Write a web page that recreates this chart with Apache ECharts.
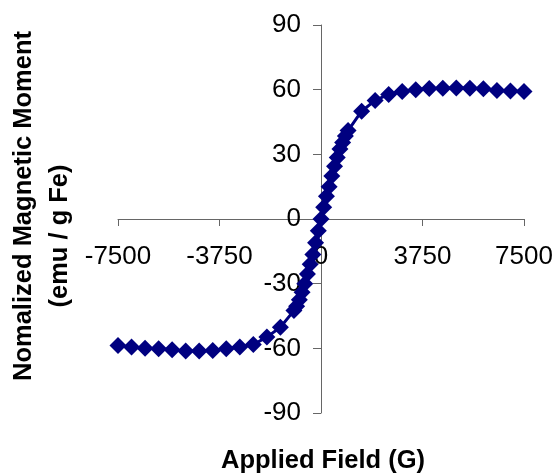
<!DOCTYPE html>
<html>
<head>
<meta charset="utf-8">
<script src="https://cdn.jsdelivr.net/npm/echarts@6/dist/echarts.min.js"></script>
<style>html,body{margin:0;padding:0;background:#fff}#c{width:556px;height:474px}</style>
</head>
<body>
<div id="c"></div>
<script>
var fieldG = [-7500,-7000,-6500,-6000,-5500,-5000,-4500,-4000,-3500,-3000,-2500,-2000,-1500,
  -1000,-900,-800,-700,-600,-500,-400,-300,-200,-100,0,100,200,300,400,500,600,700,800,900,1000,
  1500,2000,2500,3000,3500,4000,4500,5000,5500,6000,6500,7000,7500];
var moment = [-58.7,-59.4,-60.0,-60.2,-60.6,-61.2,-61.2,-61.0,-60.2,-59.4,-58.2,-54.8,-50.2,
  -42.5,-40.5,-37.5,-34,-30,-25.5,-21,-16.5,-11,-5.5,0,5.5,10.5,15,20,24.5,28.5,32.5,35.5,38.5,41,
  50,55,57.8,59.1,60,60.5,60.6,60.8,60.6,60.4,59.6,59.4,59.1];
var xTicks = [-7500,-3750,0,3750,7500];
var yTicks = [-90,-60,-30,0,30,60,90];
var xTitle = 'Applied Field (G)';
var yTitle1 = 'Nomalized Magnetic Moment';
var yTitle2 = '(emu / g Fe)';

var W = 556, H = 474;
var G = {left:118,right:32,top:25,bottom:61};
var xMin = xTicks[0], xMax = xTicks[xTicks.length-1];
var yMin = yTicks[0], yMax = yTicks[yTicks.length-1];
var plotW = W - G.left - G.right, plotH = H - G.top - G.bottom;
// shift axes inward so they cross at zero (labels follow)
var xOff = -plotH * (0 - yMin) / (yMax - yMin);
var yOff = -plotW * (0 - xMin) / (xMax - xMin);

var font = '"Liberation Sans", Arial, sans-serif';
var chart = echarts.init(document.getElementById('c'), null, {renderer:'canvas'});
var pts = fieldG.map(function(x,i){return [x, moment[i]];});
chart.setOption({
  animation:false,
  grid:{left:G.left,right:G.right,top:G.top,bottom:G.bottom,containLabel:false},
  xAxis:{type:'value',min:xMin,max:xMax,interval:3750,position:'bottom',offset:xOff,
    axisLine:{onZero:false,lineStyle:{color:'#666',width:1}},
    axisTick:{show:true,length:7,lineStyle:{color:'#666'}},
    splitLine:{show:false},
    axisLabel:{margin:25,color:'#000',fontSize:26,fontFamily:font,formatter:function(v){return String(v);}}},
  yAxis:{type:'value',min:yMin,max:yMax,interval:30,position:'left',offset:yOff,
    axisLine:{show:true,onZero:false,lineStyle:{color:'#666',width:1}},
    axisTick:{show:true,length:8,lineStyle:{color:'#666'}},
    splitLine:{show:false},
    axisLabel:{margin:20,color:'#000',fontSize:26,fontFamily:font,formatter:function(v){return String(v);}}},
  graphic:[
    {type:'text',x:323,y:461,style:{text:xTitle,font:'bold 25.5px '+font,fill:'#000',align:'center',verticalAlign:'middle'}},
    {type:'text',x:24,y:206,rotation:Math.PI/2,style:{text:yTitle1,font:'bold 25.5px '+font,fill:'#000',align:'center',verticalAlign:'middle'}},
    {type:'text',x:60,y:236,rotation:Math.PI/2,style:{text:yTitle2,font:'bold 25.5px '+font,fill:'#000',align:'center',verticalAlign:'middle'}}
  ],
  series:[{type:'line',data:pts,symbol:'diamond',symbolSize:17,
    lineStyle:{color:'#000080',width:3},itemStyle:{color:'#000080'}}]
});
</script>
</body>
</html>
